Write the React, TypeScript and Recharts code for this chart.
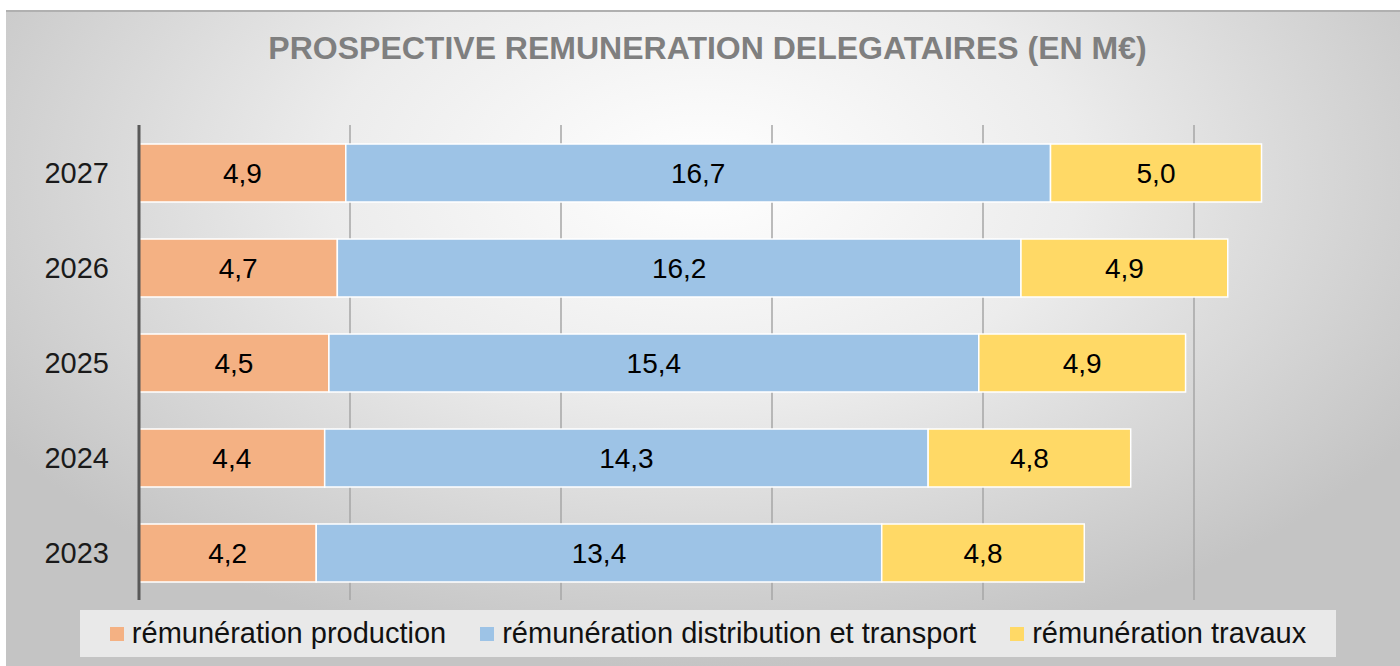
import { Bar, BarChart, CartesianGrid, LabelList, XAxis, YAxis } from 'recharts'

const years = ['2023', '2024', '2025', '2026', '2027']
const production = [4.2, 4.4, 4.5, 4.7, 4.9]
const distribution = [13.4, 14.3, 15.4, 16.2, 16.7]
const travaux = [4.8, 4.8, 4.9, 4.9, 5.0]
const xTicks = [0, 5, 10, 15, 20, 25, 30]

const series = [
  { key: 'production', label: 'rémunération production', color: '#f4b183' },
  { key: 'distribution', label: 'rémunération distribution et transport', color: '#9dc3e6' },
  { key: 'travaux', label: 'rémunération travaux', color: '#ffd966' },
]

const rows = years.map((year, i) => ({
  year,
  production: production[i],
  distribution: distribution[i],
  travaux: travaux[i],
}))

const FONT = '"Liberation Sans", Arial, sans-serif'

const fmt = (v: unknown) => (typeof v === 'number' ? v.toFixed(1).replace('.', ',') : String(v))

function LegendBox() {
  return (
    <div
      style={{
        position: 'absolute',
        left: 80,
        top: 610,
        width: 1256,
        height: 47,
        background: '#e9e9e9',
        display: 'flex',
        alignItems: 'center',
        justifyContent: 'center',
        gap: 34,
        fontFamily: FONT,
        fontSize: 29,
        color: '#111',
      }}
    >
      {series.map((s) => (
        <span key={s.key} style={{ display: 'flex', alignItems: 'center' }}>
          <span style={{ width: 14, height: 14, background: s.color, marginRight: 8, display: 'inline-block' }} />
          {s.label}
        </span>
      ))}
    </div>
  )
}

export default function App() {
  return (
    <div style={{ position: 'absolute', left: 0, top: 0, width: 1400, height: 666, background: '#fff', overflow: 'hidden' }}>
      <div
        style={{
          position: 'absolute',
          left: 6,
          top: 10,
          width: 1394,
          height: 656,
          borderTop: '2px solid #b0b0b0',
          background: 'radial-gradient(ellipse 60% 75% at 50% 25%, #ffffff 0%, #ececec 45%, #c4c4c4 100%)',
        }}
      />
      <div
        style={{
          position: 'absolute',
          left: 0,
          top: 30,
          width: 1415,
          textAlign: 'center',
          fontFamily: FONT,
          fontWeight: 700,
          fontSize: 32,
          color: '#7f7f7f',
        }}
      >
        PROSPECTIVE REMUNERATION DELEGATAIRES (EN M€)
      </div>
      <div style={{ position: 'absolute', left: 0, top: 0 }}>
        <BarChart
          width={1400}
          height={666}
          data={rows}
          layout="vertical"
          margin={{ top: 125, right: -5, bottom: 66, left: 0 }}
          barSize={58}
        >
          <CartesianGrid horizontal={false} stroke="#a6a6a6" strokeWidth={1.5} />
          <XAxis type="number" domain={[0, 30]} ticks={xTicks} hide />
          <YAxis
            type="category"
            dataKey="year"
            reversed
            width={139}
            axisLine={{ stroke: '#595959', strokeWidth: 3 }}
            tickLine={false}
            tickSize={0}
            tickMargin={30}
            tick={{ fill: '#1a1a1a', fontSize: 29, fontFamily: FONT }}
          />
          {series.map((s) => (
            <Bar
              key={s.key}
              dataKey={s.key}
              stackId="a"
              fill={s.color}
              stroke="#ffffff"
              strokeWidth={1.5}
              isAnimationActive={false}
            >
              <LabelList dataKey={s.key} position="center" formatter={fmt} fill="#000" fontSize={28} fontFamily={FONT} />
            </Bar>
          ))}
        </BarChart>
      </div>
      <LegendBox />
    </div>
  )
}
